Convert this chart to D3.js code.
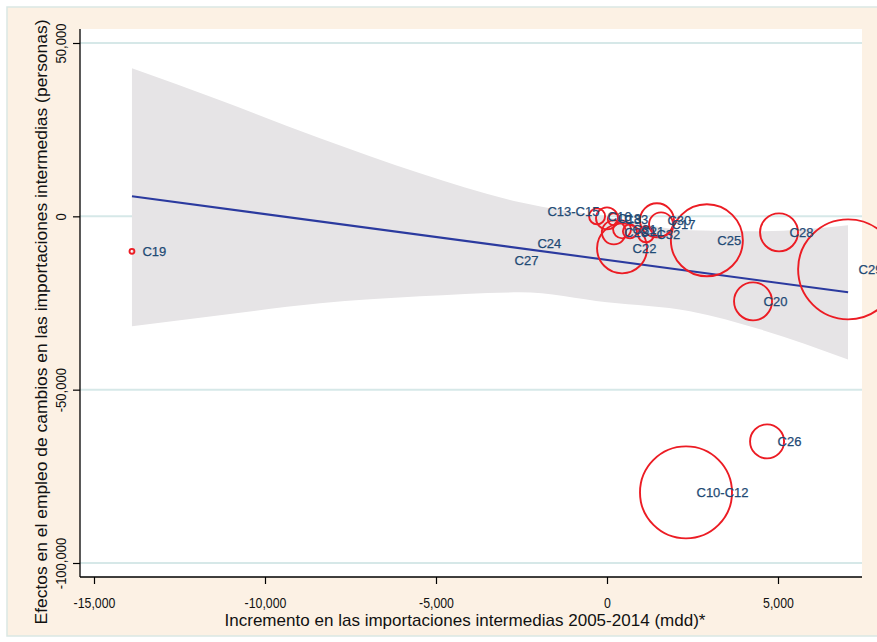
<!DOCTYPE html>
<html>
<head>
<meta charset="utf-8">
<script src="https://cdn.jsdelivr.net/npm/d3@7"></script>
<style>
  html, body { margin: 0; padding: 0; background: #ffffff; }
  svg { display: block; }
</style>
</head>
<body>
<svg id="chart" width="877" height="642"></svg>
<script>
// ---------------- DATA ----------------
const sectors = ["C19","C27","C24","C13-C15","C16","C18","C33","C23","C31","C21","C32","C22","C30","C17","C25","C28","C20","C29","C26","C10-C12"];
const importChange = [-13890,-3010,-2340,-2050,-290,0,200,200,440,670,1140,440,1460,1580,2920,5030,4270,7050,4680,2310];
const employmentEffect = [-10100,-12700,-7790,1440,0,-580,-870,-4620,-3750,-4330,-5190,-9230,-1150,-2310,-6920,-4620,-24520,-15290,-64920,-79630];
const weight = [6,0,0,0,64,121,36,144,81,49,64,625,289,144,1296,361,361,2500,289,2116];

// linear fit and its confidence band
const fitX = [-13890, 7050];
const fitY = [5800, -21900];
const bandX = [-13890,-11316,-8392,-5468,-2544,0,2427,4474,7047];
const bandUpper = [42700,33470,22500,12410,4040,-290,-4040,-4330,-2600];
const bandLower = [-31740,-28560,-25100,-23080,-21930,-24810,-27410,-32600,-41270];

// axes
const xTicks = [-15000,-10000,-5000,0,5000];
const xTickLabels = ["-15,000","-10,000","-5,000","0","5,000"];
const yTicks = [50000,0,-50000,-100000];
const yTickLabels = ["50,000","0","-50,000","-100,000"];
const xTitle = "Incremento en las importaciones intermedias 2005-2014 (mdd)*";
const yTitle = "Efectos en el empleo de cambios en las importaciones intermedias (personas)";

// ---------------- LAYOUT ----------------
const svg = d3.select("#chart");
const plot = {left: 80, top: 29, right: 862, bottom: 577};

const x = d3.scaleLinear().domain([-15000, 5000]).range([94, 778]);
const y = d3.scaleLinear().domain([50000, -100000]).range([43, 563]);
const r = d3.scaleSqrt().domain([0, 2500]).range([0, 50]);

const narrow = "'Liberation Sans Narrow','Arial Narrow','Liberation Sans',Arial,sans-serif";
const sans = "'Liberation Sans',Arial,Helvetica,sans-serif";

// outer frame
svg.append("rect").attr("x", 7).attr("y", 7).attr("width", 880).attr("height", 629)
  .attr("fill", "#fcf1e4").attr("stroke", "#dae7e4").attr("stroke-width", 1.5);

// plot region
svg.append("rect").attr("x", plot.left).attr("y", plot.top)
  .attr("width", plot.right - plot.left).attr("height", plot.bottom - plot.top)
  .attr("fill", "#ffffff");

const g = svg.append("g");

// gridlines
g.selectAll("line.grid").data(yTicks).join("line")
  .attr("class", "grid")
  .attr("x1", plot.left).attr("x2", plot.right)
  .attr("y1", d => y(d)).attr("y2", d => y(d))
  .attr("stroke", "#d6e8e8").attr("stroke-width", 2);

// confidence band
const bandData = bandX.map((d, i) => ({x: d, lo: bandLower[i], hi: bandUpper[i]}));
g.append("path").datum(bandData)
  .attr("d", d3.area().x(d => x(d.x)).y0(d => y(d.lo)).y1(d => y(d.hi)).curve(d3.curveMonotoneX))
  .attr("fill", "#e6e4e6");

// fit line
const fitData = fitX.map((d, i) => ({x: d, y: fitY[i]}));
g.append("path").datum(fitData)
  .attr("d", d3.line().x(d => x(d.x)).y(d => y(d.y)))
  .attr("fill", "none").attr("stroke", "#2b3a9f").attr("stroke-width", 2.1);

// bubbles
const pts = sectors.map((s, i) => ({s, x: importChange[i], y: employmentEffect[i], w: weight[i]}));
g.selectAll("circle.b").data(pts.filter(d => d.w > 0)).join("circle")
  .attr("class", "b")
  .attr("cx", d => x(d.x)).attr("cy", d => y(d.y)).attr("r", d => r(d.w))
  .attr("fill", "none").attr("stroke", "#ec1c24").attr("stroke-width", 1.9);

// labels
g.selectAll("text.lab").data(pts).join("text")
  .attr("class", "lab")
  .attr("x", d => x(d.x) + 10.5).attr("y", d => y(d.y))
  .attr("dy", "0.36em")
  .attr("font-family", sans).attr("font-size", 13)
  .attr("fill", "#1f4a75").attr("stroke", "#1f4a75").attr("stroke-width", 0.25)
  .text(d => d.s);

function squeeze(sel, f) {
  sel.each(function() {
    const L = this.getComputedTextLength();
    d3.select(this).attr("textLength", L * f).attr("lengthAdjust", "spacingAndGlyphs");
  });
}

// axes
const xAxis = svg.append("g").attr("transform", `translate(0,${plot.bottom})`)
  .call(d3.axisBottom(x).tickValues(xTicks).tickSize(7).tickSizeOuter(0).tickFormat((d, i) => xTickLabels[i]));
xAxis.select(".domain").remove();
xAxis.append("line").attr("x1", plot.left).attr("x2", plot.right).attr("y1", 0).attr("y2", 0)
  .attr("stroke", "#000").attr("stroke-width", 1.3);
xAxis.selectAll(".tick line").attr("stroke", "#000").attr("stroke-width", 1.2);
xAxis.selectAll(".tick text").attr("y", 31).attr("dy", 0)
  .attr("font-family", narrow).attr("font-size", 14).attr("fill", "#111");
squeeze(xAxis.selectAll(".tick text"), 0.88);

const yAxis = svg.append("g").attr("transform", `translate(${plot.left},0)`)
  .call(d3.axisLeft(y).tickValues(yTicks).tickSize(7).tickSizeOuter(0).tickFormat((d, i) => yTickLabels[i]));
yAxis.select(".domain").remove();
yAxis.append("line").attr("x1", 0).attr("x2", 0).attr("y1", plot.top).attr("y2", plot.bottom)
  .attr("stroke", "#000").attr("stroke-width", 1.3);
yAxis.selectAll(".tick line").attr("stroke", "#000").attr("stroke-width", 1.2);
yAxis.selectAll(".tick text")
  .attr("transform", "rotate(-90)")
  .attr("x", 0).attr("y", -14).attr("dy", 0)
  .attr("text-anchor", "middle")
  .attr("font-family", narrow).attr("font-size", 14).attr("fill", "#111");
squeeze(yAxis.selectAll(".tick text"), 0.93);

// titles
svg.append("text")
  .attr("x", 465).attr("y", 626)
  .attr("text-anchor", "middle")
  .attr("font-family", narrow).attr("font-size", 17).attr("fill", "#111")
  .attr("textLength", 481).attr("lengthAdjust", "spacingAndGlyphs")
  .text(xTitle);

svg.append("text")
  .attr("transform", "translate(47,322) rotate(-90)")
  .attr("text-anchor", "middle")
  .attr("font-family", sans).attr("font-size", 16).attr("fill", "#111")
  .attr("textLength", 605).attr("lengthAdjust", "spacingAndGlyphs")
  .text(yTitle);
</script>
</body>
</html>
